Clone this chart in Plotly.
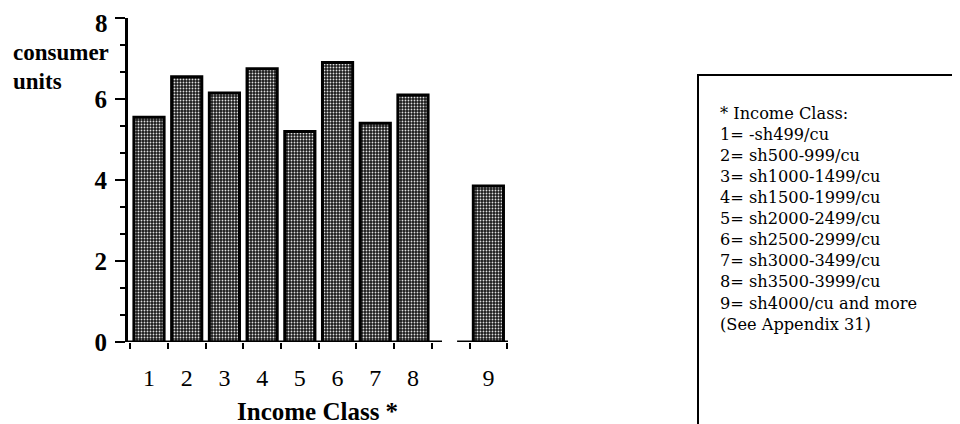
import plotly.graph_objects as go

# Data
positions = [1, 2, 3, 4, 5, 6, 7, 8, 10]
class_labels = ["1", "2", "3", "4", "5", "6", "7", "8", "9"]
consumer_units = [5.55, 6.55, 6.15, 6.75, 5.2, 6.9, 5.4, 6.1, 3.85]
y_ticks = [0, 2, 4, 6, 8]
y_tick_labels = ["0", "2", "4", "6", "8"]
x_minor_ticks = [0.5, 1.5, 2.5, 3.5, 4.5, 5.5, 6.5, 7.5, 8.5, 9.5, 10.5]
legend_lines = [
    "* Income Class:",
    "1= -sh499/cu",
    "2= sh500-999/cu",
    "3= sh1000-1499/cu",
    "4= sh1500-1999/cu",
    "5= sh2000-2499/cu",
    "6= sh2500-2999/cu",
    "7= sh3000-3499/cu",
    "8= sh3500-3999/cu",
    "9= sh4000/cu and more",
    "(See Appendix 31)",
]

SERIF = "Liberation Serif"
OFF = 8  # page offset of the figure in the viewport

W, H = 960, 424
L = 128 - OFF
T = 18 - OFF
B = H - (342 - OFF)
R = W - (508 - OFF)
pw, ph = W - L - R, H - T - B

def px_x(x):
    return (x - OFF - L) / pw

def px_y(y):
    return (H - B - (y - OFF)) / ph

fig = go.Figure()
fig.add_trace(go.Bar(
    x=positions,
    y=consumer_units,
    width=0.8,
    marker=dict(
        color="#2a2a2a",
        line=dict(color="black", width=3),
        pattern=dict(shape=".", fgcolor="#e0e0e0", bgcolor="#1a1a1a",
                     size=3, solidity=0.3, fillmode="replace"),
    ),
    showlegend=False,
))

xr = [0.443, 10.52]
fig.update_xaxes(
    range=xr,
    tickvals=positions,
    ticktext=class_labels,
    ticks="",
    showgrid=False,
    zeroline=False,
    showline=False,
    automargin=False,
    ticklabeloverflow="allow",
    tickfont=dict(family=SERIF, size=24, color="black"),
    ticklabelstandoff=19,
    minor=dict(tickvals=x_minor_ticks, ticks="outside", ticklen=6,
               tickwidth=2, tickcolor="black", showgrid=False),
)
# top label ("8") is drawn as an annotation so it stays inside the page
fig.update_yaxes(
    range=[0, 8],
    tickvals=y_ticks,
    ticktext=y_tick_labels[:-1] + [""],
    ticks="outside",
    ticklen=10,
    tickwidth=2,
    tickcolor="black",
    showline=True,
    linewidth=3,
    linecolor="black",
    showgrid=False,
    zeroline=False,
    automargin=False,
    ticklabeloverflow="allow",
    tickfont=dict(family=SERIF, size=25, color="black", weight="bold"),
    ticklabelstandoff=3,
    minor=dict(dtick=2/3, tick0=0, ticks="outside", ticklen=5,
               tickwidth=2, tickcolor="black", showgrid=False),
)

# broken x-axis baseline
for x0, x1 in [(xr[0], 8.77), (9.17, xr[1])]:
    fig.add_shape(type="line", xref="x", yref="y", x0=x0, x1=x1, y0=0, y1=0,
                  line=dict(color="black", width=3))

# legend box
fig.add_shape(type="rect", xref="paper", yref="paper",
              x0=px_x(698), x1=px_x(975), y0=px_y(75), y1=px_y(440),
              line=dict(color="black", width=2))

annotations = [dict(
    text="<br>".join(legend_lines), xref="paper", yref="paper",
    x=px_x(718), y=px_y(102),
    xanchor="left", yanchor="top", align="left", showarrow=False,
    font=dict(family="DejaVu Serif", size=16.2, color="black"),
)]

annotations.append(dict(text=y_tick_labels[-1], xref="paper", yref="paper",
                        x=px_x(110), y=px_y(OFF), xanchor="right", yanchor="top",
                        showarrow=False,
                        font=dict(family=SERIF, size=25, color="black", weight="bold")))
annotations.append(dict(text="consumer", xref="paper", yref="paper",
                        x=px_x(11), y=px_y(52), xanchor="left", yanchor="middle",
                        showarrow=False,
                        font=dict(family=SERIF, size=23, color="black", weight="bold")))
annotations.append(dict(text="units", xref="paper", yref="paper",
                        x=px_x(11), y=px_y(81), xanchor="left", yanchor="middle",
                        showarrow=False,
                        font=dict(family=SERIF, size=23, color="black", weight="bold")))
annotations.append(dict(text="Income Class *", xref="paper", yref="paper",
                        x=px_x(317), y=px_y(411), xanchor="center", yanchor="middle",
                        showarrow=False,
                        font=dict(family=SERIF, size=25, color="black", weight="bold")))

fig.update_layout(
    width=W, height=H,
    margin=dict(l=L, r=R, t=T, b=B, autoexpand=False),
    paper_bgcolor="white",
    plot_bgcolor="white",
    annotations=annotations,
)

fig.write_html("out.html")
